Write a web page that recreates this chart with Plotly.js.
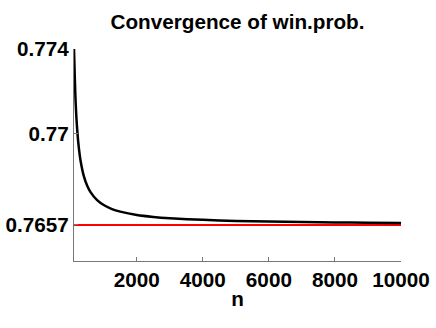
<!DOCTYPE html>
<html>
<head>
<meta charset="utf-8">
<script src="https://cdn.plot.ly/plotly-3.0.1.min.js"></script>
<style>html,body{margin:0;padding:0;background:#fff;}#chart{width:436px;height:328px;}</style>
</head>
<body>
<div id="chart"></div>
<script>
const nValues = [100,150,200,250,300,400,500,600,800,1000,1250,1500,2000,2500,3000,4000,5000,6000,7000,8000,9000,10000];
const winProb = [0.7740,0.77148,0.77013,0.76929,0.76872,0.76799,0.76755,0.76725,0.76687,0.76664,0.76645,0.76633,0.76617,0.76608,0.76602,0.76594,0.76589,0.76586,0.76584,0.76582,0.76581,0.76579];
const limitX = [100,10000];
const limitValue = 0.7657;
const xTicks = [2000,4000,6000,8000,10000];
const yTicks = [0.7657,0.77,0.774];
const yTickText = ['0.7657','0.77','0.774'];

const font = {family:'Arial, "Liberation Sans", Helvetica, sans-serif', size:20.7, color:'#000', weight:'bold'};
const traces = [
  {x: limitX, y: limitX.map(()=>limitValue), mode:'lines', line:{color:'#ff0000', width:2}, hoverinfo:'skip'},
  {x: nValues, y: winProb, mode:'lines', line:{color:'#000', width:2.5, shape:'spline', smoothing:0.8}, hoverinfo:'skip'}
];
const layout = {
  width:436, height:328,
  margin:{l:74, r:35, t:49, b:67},
  paper_bgcolor:'#fff', plot_bgcolor:'#fff',
  showlegend:false,
  font: font,
  title:{text:'Convergence of win.prob.', font:font, xref:'paper', x:0.5, xanchor:'center', yref:'container', y:1-22/328, yanchor:'middle'},
  xaxis:{range:[100,10000], tickvals:xTicks, ticktext:xTicks.map(String), showgrid:false, zeroline:false,
    showline:true, linecolor:'#777', linewidth:1, ticks:'inside', ticklen:4, tickcolor:'#777',
    tickfont:font, title:{text:'n', font:font, standoff:1}},
  yaxis:{range:[0.764,0.774], tickvals:yTicks, ticktext:yTickText, showgrid:false, zeroline:false,
    showline:true, linecolor:'#777', linewidth:1, ticks:'inside', ticklen:4, tickcolor:'#777',
    tickfont:font}
};
Plotly.newPlot('chart', traces, layout, {staticPlot:true, displayModeBar:false});
</script>
</body>
</html>
